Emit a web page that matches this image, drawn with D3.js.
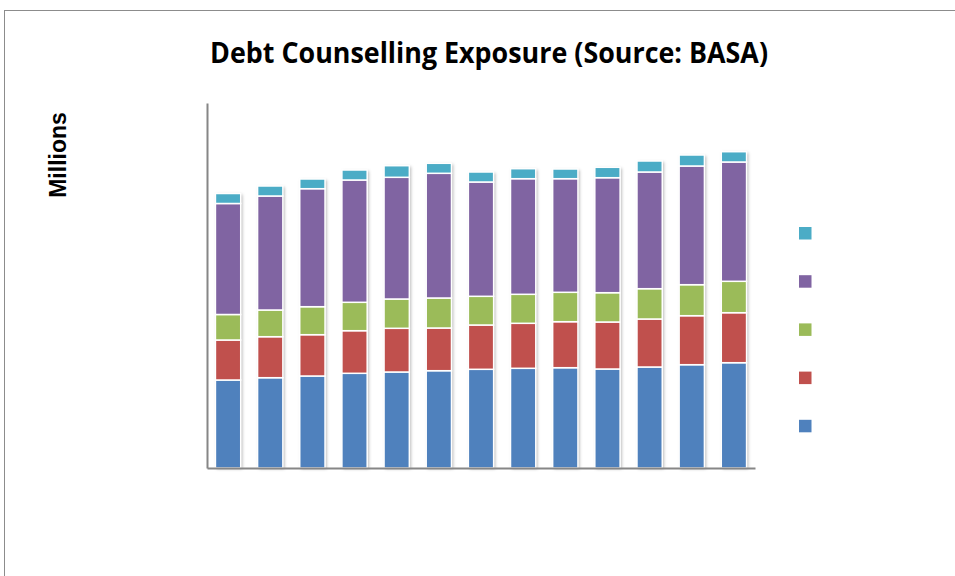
<!DOCTYPE html>
<html>
<head>
<meta charset="utf-8">
<script src="https://cdn.jsdelivr.net/npm/d3@7"></script>
<style>
  body { margin: 0; background: #fff; }
  svg { display: block; }
</style>
</head>
<body>
<svg id="chart"></svg>
<script>
// Data (millions; no labels shown on the original)
var periods = ['P1', 'P2', 'P3', 'P4', 'P5', 'P6', 'P7', 'P8', 'P9', 'P10', 'P11', 'P12', 'P13']
var seriesNames = ['Series 1', 'Series 2', 'Series 3', 'Series 4', 'Series 5']
var series1 = [88, 90.3, 92, 94.7, 96, 97.3, 98.7, 99.7, 100.3, 99, 101, 103.3, 105.3]
var series2 = [40, 41, 41.3, 42.6, 43.7, 42.7, 44.3, 45, 46, 47, 48, 49, 50]
var series3 = [25.5, 26.7, 28, 28.4, 29.3, 30, 28.7, 29, 29.4, 29.3, 30.3, 31, 31.4]
var series4 = [111, 114, 118, 122.3, 121.7, 124.7, 114.3, 115.6, 113.6, 115, 116.7, 118.7, 119.3]
var series5 = [10, 10, 9.7, 10, 11.6, 10, 10, 10, 9.7, 10.4, 11, 11, 10.3]
var yMax = 365

var colors = ['#4f81bd', '#c0504d', '#9bbb59', '#8064a2', '#4bacc6']

var width = 955,
    height = 576

var rows = periods.map(function (p, i) {
  return {
    period: p,
    'Series 1': series1[i],
    'Series 2': series2[i],
    'Series 3': series3[i],
    'Series 4': series4[i],
    'Series 5': series5[i]
  }
})

var svg = d3.select('#chart')
  .attr('width', width)
  .attr('height', height)

var defs = svg.append('defs')
defs.append('filter')
  .attr('id', 'shadow')
  .attr('x', '-30%').attr('y', '-5%')
  .attr('width', '160%').attr('height', '110%')
  .append('feDropShadow')
  .attr('dx', 1.5).attr('dy', 1)
  .attr('stdDeviation', 1.5)
  .attr('flood-color', '#000')
  .attr('flood-opacity', 0.3)

// Outer frame
svg.append('rect')
  .attr('x', 4.5)
  .attr('y', 10.5)
  .attr('width', 980)
  .attr('height', 620)
  .attr('fill', 'none')
  .attr('stroke', '#8c8c8c')
  .attr('stroke-width', 1)

// Title
svg.append('text')
  .attr('x', 489)
  .attr('y', 63)
  .attr('text-anchor', 'middle')
  .attr('textLength', 558)
  .attr('lengthAdjust', 'spacingAndGlyphs')
  .style('font-family', '"Open Sans", sans-serif')
  .style('font-weight', 'bold')
  .style('font-size', '28px')
  .text('Debt Counselling Exposure (Source: BASA)')

// Y axis title
svg.append('text')
  .attr('transform', 'translate(66,155) rotate(-90)')
  .attr('text-anchor', 'middle')
  .style('font-family', '"Liberation Sans", Arial, sans-serif')
  .style('font-weight', 'bold')
  .style('font-size', '23px')
  .text('Millions')

var x = d3.scaleBand()
  .domain(periods)
  .range([207, 755])
  .paddingInner(0.4)
  .paddingOuter(0.2)

var y = d3.scaleLinear()
  .domain([0, yMax])
  .range([468, 103])

var stacked = d3.stack().keys(seriesNames)(rows)

// soft shadow under each whole bar
svg.append('g')
  .selectAll('rect')
  .data(rows)
  .enter()
  .append('rect')
  .attr('x', function (d) { return x(d.period) })
  .attr('width', x.bandwidth())
  .attr('y', function (d, i) { return y(stacked[4][i][1]) })
  .attr('height', function (d, i) { return y(0) - y(stacked[4][i][1]) })
  .attr('fill', '#fff')
  .attr('filter', 'url(#shadow)')

var layers = svg.append('g')
  .selectAll('g')
  .data(stacked)
  .enter()
  .append('g')
  .attr('fill', function (d, i) { return colors[i] })

layers.selectAll('rect')
  .data(function (d) { return d })
  .enter()
  .append('rect')
  .attr('x', function (d) { return x(d.data.period) })
  .attr('width', x.bandwidth())
  .attr('y', function (d) { return y(d[1]) })
  .attr('height', function (d) { return y(d[0]) - y(d[1]) })
  .attr('stroke', '#fff')
  .attr('stroke-width', 1.5)

// Axes (lines only, no ticks or labels)
svg.append('g')
  .attr('transform', 'translate(207,0)')
  .call(d3.axisLeft(y).tickValues([]).tickSizeOuter(0))
svg.append('g')
  .attr('transform', 'translate(0,468)')
  .call(d3.axisBottom(x).tickValues([]).tickSizeOuter(0))

svg.selectAll('.domain')
  .attr('stroke', '#868686')
  .attr('stroke-width', 2)

// Legend (colour keys only)
svg.append('g')
  .selectAll('rect')
  .data(seriesNames.slice().reverse())
  .enter()
  .append('rect')
  .attr('x', 799)
  .attr('y', function (d, i) { return 227 + i * 48.2 })
  .attr('width', 12.5)
  .attr('height', 12.5)
  .attr('fill', function (d) { return colors[seriesNames.indexOf(d)] })
</script>
</body>
</html>
